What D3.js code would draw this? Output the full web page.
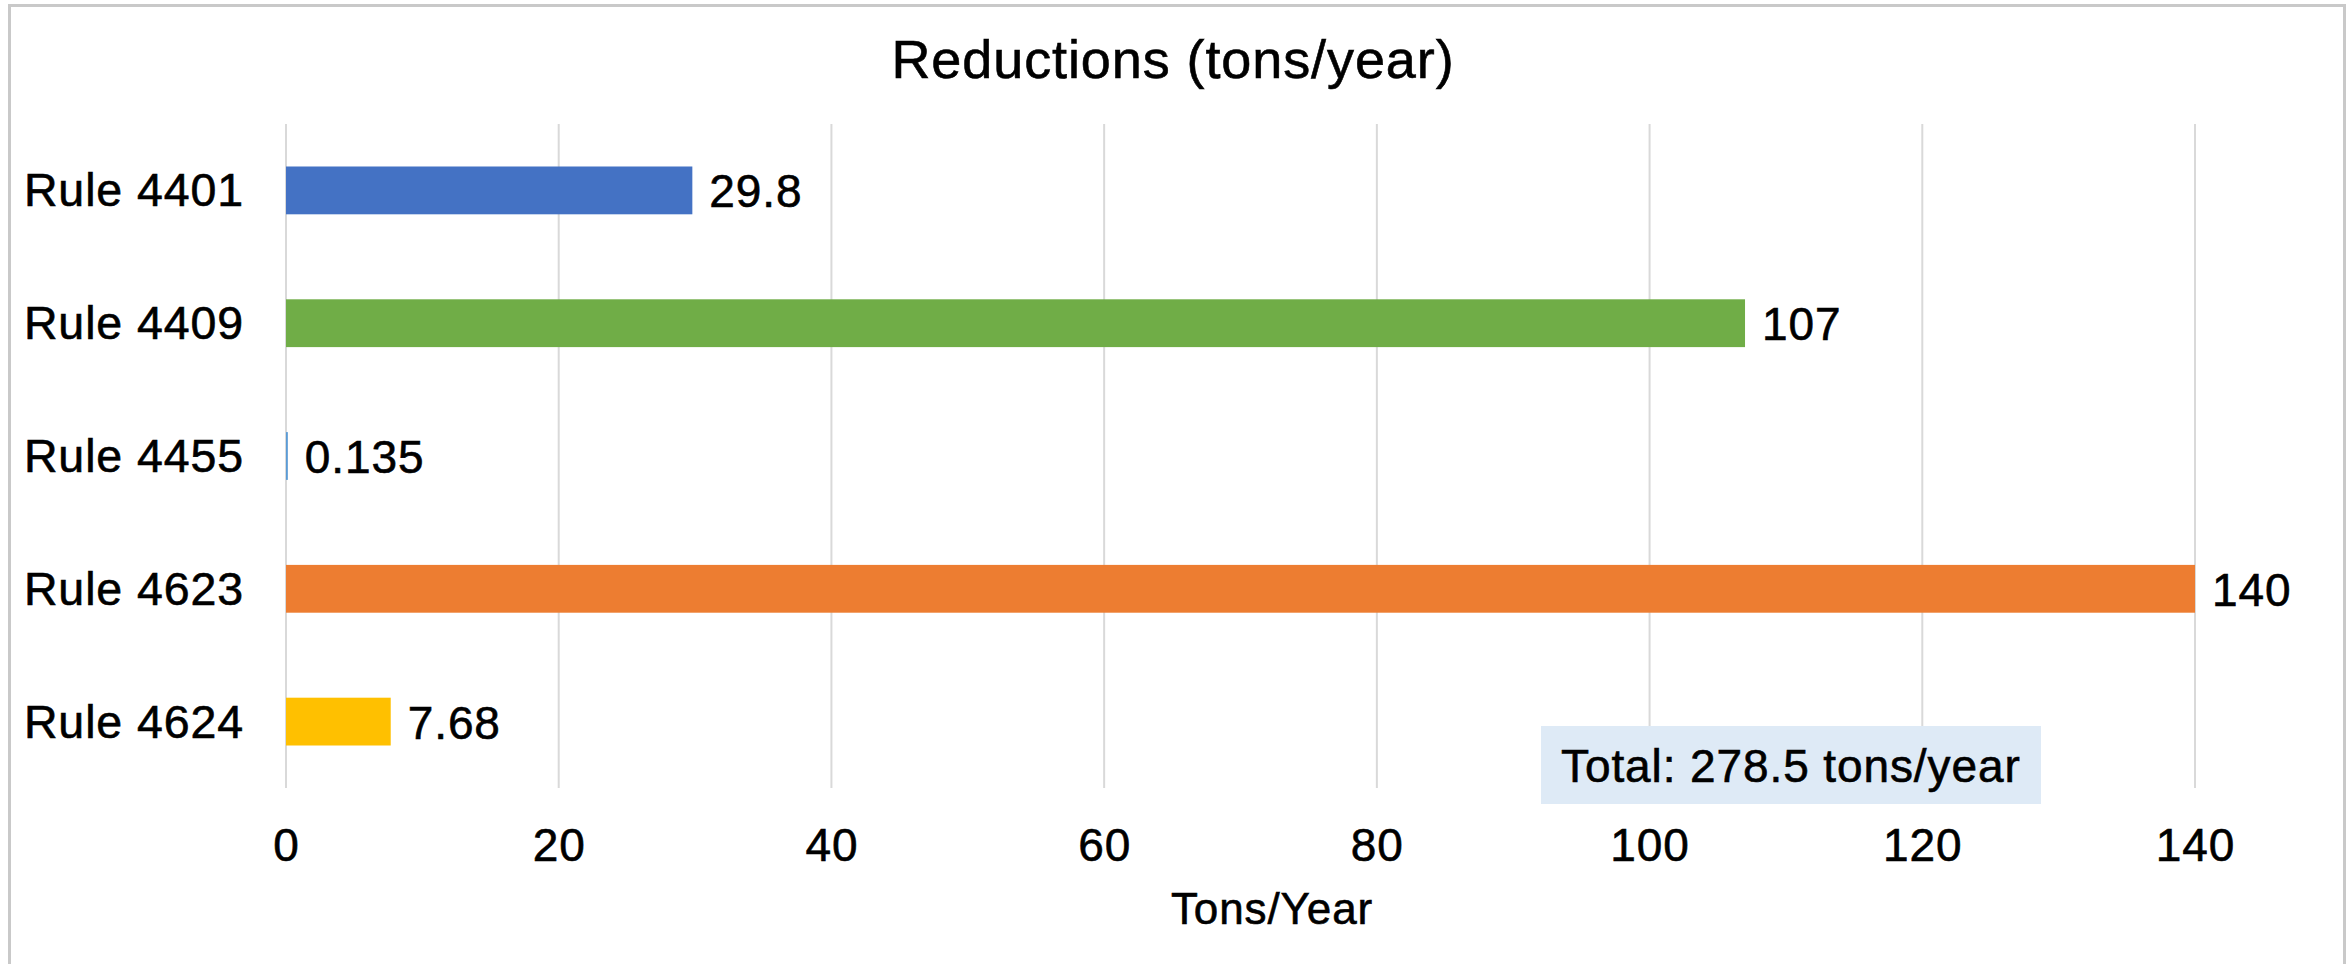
<!DOCTYPE html>
<html>
<head>
<meta charset="utf-8">
<script src="https://cdn.jsdelivr.net/npm/d3@7"></script>
<style>
  body { margin: 0; background: #fff; }
  text { font-family: "Liberation Sans", Arial, sans-serif; fill: #000; stroke: #000; stroke-width: 0.6px; letter-spacing: 0.9px; }
</style>
</head>
<body>
<div id="chart"></div>
<script>
const FRAME_WIDTH = 2348;
const FRAME_HEIGHT = 964;
const MARGINS = { left: 286, right: 153, top: 124, bottom: 176 };

// data
const rules = ["Rule 4401", "Rule 4409", "Rule 4455", "Rule 4623", "Rule 4624"];
const reductions = [29.8, 107, 0.135, 140, 7.68];
const valueLabels = ["29.8", "107", "0.135", "140", "7.68"];
const barColors = ["#4472C4", "#70AD47", "#5B9BD5", "#ED7D31", "#FFC000"];
const xTicks = [0, 20, 40, 60, 80, 100, 120, 140];
const totalText = "Total: 278.5 tons/year";

let svg = d3.select("#chart")
  .append("svg")
  .attr("width", FRAME_WIDTH)
  .attr("height", FRAME_HEIGHT);

// chart border
svg.append("rect")
  .attr("x", 9.5)
  .attr("y", 5.5)
  .attr("width", 2335)
  .attr("height", 970)
  .attr("fill", "#fff")
  .attr("stroke", "#c9c9c9")
  .attr("stroke-width", 3);

let x = d3.scaleLinear()
  .domain([0, 140])
  .range([MARGINS.left, FRAME_WIDTH - MARGINS.right]);

let y = d3.scaleBand()
  .domain(rules)
  .range([MARGINS.top, FRAME_HEIGHT - MARGINS.bottom])
  .paddingInner(0.64)
  .paddingOuter(0.32);

let plotBottom = FRAME_HEIGHT - MARGINS.bottom;

// gridlines
svg.append("g")
  .selectAll("line")
  .data(xTicks)
  .enter()
  .append("line")
  .attr("x1", d => x(d))
  .attr("x2", d => x(d))
  .attr("y1", MARGINS.top)
  .attr("y2", plotBottom)
  .attr("stroke", "#d9d9d9")
  .attr("stroke-width", 2);

// x axis (labels only)
let xAxis = svg.append("g")
  .attr("transform", "translate(0," + plotBottom + ")")
  .call(d3.axisBottom(x).tickValues(xTicks).tickSize(0).tickPadding(40));
xAxis.select(".domain").remove();
xAxis.selectAll("text")
  .style("font-family", "'Liberation Sans', Arial, sans-serif")
  .style("font-size", "46px")
  .attr("fill", "#000");

// category labels
svg.append("g")
  .selectAll("text")
  .data(rules)
  .enter()
  .append("text")
  .attr("x", 244)
  .attr("y", d => y(d) + y.bandwidth() / 2 + 16)
  .attr("text-anchor", "end")
  .style("font-size", "46.5px")
  .text(d => d);

// bars
svg.append("g")
  .selectAll("rect")
  .data(reductions)
  .enter()
  .append("rect")
  .attr("x", x(0))
  .attr("y", (d, i) => y(rules[i]))
  .attr("width", d => Math.max(x(d) - x(0), 1.5))
  .attr("height", y.bandwidth())
  .attr("fill", (d, i) => barColors[i]);

// value labels
svg.append("g")
  .selectAll("text")
  .data(reductions)
  .enter()
  .append("text")
  .attr("x", d => x(d) + 17)
  .attr("y", (d, i) => y(rules[i]) + y.bandwidth() / 2 + 17)
  .style("font-size", "46px")
  .text((d, i) => valueLabels[i]);

// total box
svg.append("rect")
  .attr("x", 1541)
  .attr("y", 726)
  .attr("width", 500)
  .attr("height", 78)
  .attr("fill", "#deeaf6");

svg.append("text")
  .attr("x", 1561)
  .attr("y", 782)
  .style("font-size", "46px")
  .text(totalText);

// title
svg.append("text")
  .attr("x", 1173)
  .attr("y", 78)
  .attr("text-anchor", "middle")
  .style("font-size", "54px")
  .text("Reductions (tons/year)");

// axis title
svg.append("text")
  .attr("x", 1272)
  .attr("y", 924)
  .attr("text-anchor", "middle")
  .style("font-size", "44px")
  .text("Tons/Year");
</script>
</body>
</html>
